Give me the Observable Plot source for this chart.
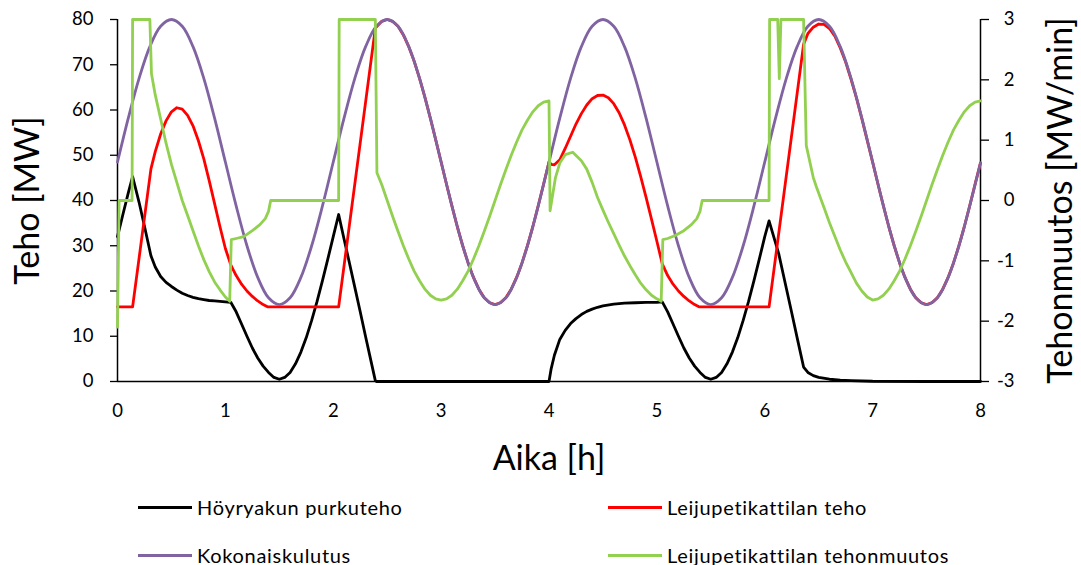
<!DOCTYPE html>
<html>
<head>
<meta charset="utf-8">
<script src="https://cdn.jsdelivr.net/npm/d3@7"></script>
<script src="https://cdn.jsdelivr.net/npm/@observablehq/plot@0.6"></script>
<style>
  body { margin: 0; background: #fff; }
  #chart { width: 1081px; }
  .legend { position: relative; width: 1081px; height: 85px; font-family: Lato, sans-serif; font-size: 20px; letter-spacing: 0.7px; color: #000; }
  .item { position: absolute; display: flex; align-items: center; white-space: nowrap; height: 26px; }
  .sw { display: inline-block; width: 54px; height: 3px; margin-right: 5px; }
</style>
</head>
<body>
<div id="chart"></div>
<div class="legend" id="legend"></div>
<script>
// ---- Data ----
const xTicks = [0, 1, 2, 3, 4, 5, 6, 7, 8];
const yTicks = [0, 10, 20, 30, 40, 50, 60, 70, 80];
const y2Ticks = [-3, -2, -1, 0, 1, 2, 3];

const seriesNames = ["Höyryakun purkuteho", "Leijupetikattilan teho", "Kokonaiskulutus", "Leijupetikattilan tehonmuutos"];
const seriesColors = ["#000000", "#FF0000", "#8064A2", "#92D050"];

// Kokonaiskulutus [MW], sampled every 0.1 h from 0 to 8 h
const kokStep = 0.1;
const kokonaiskulutus = [
  48.5, 58.2, 67.0, 74.0, 78.5, 80.0, 78.5, 74.0, 67.0, 58.2, 48.5, 38.8, 30.0, 23.0, 18.5, 17.0, 18.5, 23.0, 30.0, 38.8,
  48.5, 58.2, 67.0, 74.0, 78.5, 80.0, 78.5, 74.0, 67.0, 58.2, 48.5, 38.8, 30.0, 23.0, 18.5, 17.0, 18.5, 23.0, 30.0, 38.8,
  48.5, 58.2, 67.0, 74.0, 78.5, 80.0, 78.5, 74.0, 67.0, 58.2, 48.5, 38.8, 30.0, 23.0, 18.5, 17.0, 18.5, 23.0, 30.0, 38.8,
  48.5, 58.2, 67.0, 74.0, 78.5, 80.0, 78.5, 74.0, 67.0, 58.2, 48.5, 38.8, 30.0, 23.0, 18.5, 17.0, 18.5, 23.0, 30.0, 38.8,
  48.3
];

// Leijupetikattilan teho [MW]: [hour, MW]
const leijuTeho = [
  [0, 16.5], [0.14, 16.5], [0.31, 47.0], [0.35, 50.8], [0.40, 54.7], [0.45, 57.6], [0.50, 59.6], [0.55, 60.5],
  [0.60, 60.2], [0.65, 58.8], [0.70, 56.5], [0.75, 53.2], [0.80, 49.2], [0.85, 44.4], [0.90, 39.3], [0.95, 34.2],
  [1.00, 29.4], [1.05, 25.8], [1.10, 23.4], [1.15, 21.5], [1.20, 20.0], [1.25, 18.8], [1.30, 17.8], [1.35, 17.0],
  [1.39, 16.5], [2.05, 16.5], [2.39, 78.1], [2.45, 79.6], [2.50, 80.0], [2.55, 79.6], [2.60, 78.5], [2.65, 76.6],
  [2.70, 74.0], [2.75, 70.8], [2.80, 67.0], [2.85, 62.8], [2.90, 58.2], [2.95, 53.4], [3.00, 48.5], [3.05, 43.6],
  [3.10, 38.8], [3.15, 34.2], [3.20, 30.0], [3.25, 26.2], [3.30, 23.0], [3.35, 20.4], [3.40, 18.5], [3.45, 17.4],
  [3.50, 17.0], [3.55, 17.4], [3.60, 18.5], [3.65, 20.4], [3.70, 23.0], [3.75, 26.2], [3.80, 30.0], [3.85, 34.2],
  [3.90, 38.8], [3.95, 43.6], [4.00, 48.5], [4.02, 48.0], [4.05, 47.9], [4.10, 49.0], [4.15, 51.5], [4.20, 54.2],
  [4.25, 56.9], [4.30, 59.2], [4.35, 61.1], [4.40, 62.5], [4.45, 63.2], [4.50, 63.3], [4.55, 62.7], [4.60, 61.4],
  [4.65, 59.4], [4.70, 56.7], [4.75, 53.4], [4.80, 49.6], [4.85, 45.3], [4.90, 40.7], [4.95, 35.9], [5.00, 31.0],
  [5.05, 26.0], [5.10, 23.4], [5.15, 21.5], [5.20, 20.0], [5.25, 18.8], [5.30, 17.8], [5.35, 17.0], [5.39, 16.5],
  [6.04, 16.5], [6.36, 74.5], [6.40, 76.9], [6.45, 78.3], [6.50, 79.0], [6.55, 78.9], [6.60, 78.0], [6.65, 76.3],
  [6.70, 73.7], [6.75, 70.6], [6.80, 66.8], [6.85, 62.7], [6.90, 58.1], [6.95, 53.3], [7.00, 48.5], [7.05, 43.6],
  [7.10, 38.8], [7.15, 34.2], [7.20, 30.0], [7.25, 26.2], [7.30, 23.0], [7.35, 20.4], [7.40, 18.5], [7.45, 17.4],
  [7.50, 17.0], [7.55, 17.4], [7.60, 18.5], [7.65, 20.4], [7.70, 23.0], [7.75, 26.2], [7.80, 30.0], [7.85, 34.2],
  [7.90, 38.8], [7.95, 43.6], [8.00, 48.3]
];

// Höyryakun purkuteho [MW]: [hour, MW]
const purkuteho = [
  [0, 32.0], [0.05, 36.9], [0.10, 41.7], [0.14, 45.3], [0.20, 39.6], [0.25, 34.3], [0.31, 27.8], [0.35, 25.3],
  [0.40, 23.2], [0.45, 21.9], [0.50, 21.0], [0.55, 20.2], [0.60, 19.5], [0.65, 19.0], [0.70, 18.6], [0.75, 18.3],
  [0.80, 18.1], [0.85, 17.9], [0.90, 17.8], [0.95, 17.7], [1.00, 17.6], [1.05, 17.5], [1.10, 15.4], [1.15, 12.7],
  [1.20, 10.0], [1.25, 7.4], [1.30, 5.2], [1.35, 3.4], [1.40, 2.0], [1.45, 0.9], [1.50, 0.5], [1.55, 0.9],
  [1.60, 2.0], [1.65, 3.9], [1.70, 6.5], [1.75, 9.7], [1.80, 13.5], [1.85, 17.7], [1.90, 22.3], [1.95, 27.1],
  [2.00, 32.0], [2.05, 36.9], [2.10, 31.5], [2.15, 26.2], [2.20, 20.8], [2.25, 15.4], [2.30, 9.9], [2.35, 4.5],
  [2.39, 0.2], [2.40, 0.0], [4.00, 0.0], [4.02, 2.8], [4.05, 5.8], [4.10, 9.3], [4.15, 11.3], [4.20, 12.8],
  [4.25, 13.9], [4.30, 14.8], [4.35, 15.5], [4.40, 16.0], [4.45, 16.4], [4.50, 16.7], [4.60, 17.1], [4.70, 17.3],
  [4.80, 17.4], [4.90, 17.5], [5.00, 17.5], [5.05, 17.6], [5.10, 15.4], [5.15, 12.7], [5.20, 10.0], [5.25, 7.4],
  [5.30, 5.2], [5.35, 3.4], [5.40, 2.0], [5.45, 0.9], [5.50, 0.5], [5.55, 0.9], [5.60, 2.0], [5.65, 3.9],
  [5.70, 6.5], [5.75, 9.7], [5.80, 13.5], [5.85, 17.7], [5.90, 22.3], [5.95, 27.1], [6.00, 32.0], [6.04, 35.5],
  [6.13, 28.2], [6.20, 20.6], [6.25, 15.2], [6.30, 9.7], [6.36, 3.2], [6.40, 2.0], [6.45, 1.3], [6.50, 0.9],
  [6.60, 0.5], [6.70, 0.3], [6.80, 0.2], [7.00, 0.05], [7.50, 0.0], [8.00, 0.0]
];

// Leijupetikattilan tehonmuutos [MW/min] (right axis): [hour, MW/min]
const tehonmuutos = [
  [0, -2.1], [0.015, 0], [0.135, 0], [0.14, 3], [0.30, 3], [0.315, 2.1], [0.35, 1.75], [0.40, 1.35],
  [0.45, 0.95], [0.50, 0.6], [0.55, 0.3], [0.60, 0.0], [0.65, -0.25], [0.70, -0.5], [0.75, -0.75], [0.80, -0.98],
  [0.85, -1.18], [0.90, -1.35], [0.95, -1.48], [1.00, -1.6], [1.04, -1.67], [1.055, -0.65], [1.10, -0.63], [1.17, -0.6],
  [1.25, -0.5], [1.32, -0.4], [1.37, -0.3], [1.40, -0.18], [1.42, 0], [2.05, 0], [2.055, 3], [2.39, 3],
  [2.405, 0.46], [2.45, 0.26], [2.50, 0], [2.55, -0.26], [2.60, -0.51], [2.65, -0.75], [2.70, -0.97], [2.75, -1.17],
  [2.80, -1.33], [2.85, -1.47], [2.90, -1.57], [2.95, -1.63], [3.00, -1.65], [3.05, -1.63], [3.10, -1.57], [3.15, -1.47],
  [3.20, -1.33], [3.25, -1.17], [3.30, -0.97], [3.35, -0.75], [3.40, -0.51], [3.45, -0.26], [3.50, 0], [3.55, 0.26],
  [3.60, 0.51], [3.65, 0.75], [3.70, 0.97], [3.75, 1.17], [3.80, 1.33], [3.85, 1.47], [3.90, 1.57], [3.95, 1.63],
  [4.00, 1.65], [4.01, -0.17], [4.03, 0.05], [4.06, 0.38], [4.10, 0.62], [4.15, 0.76], [4.22, 0.80], [4.30, 0.66],
  [4.35, 0.52], [4.40, 0.30], [4.45, 0.05], [4.50, -0.16], [4.55, -0.36], [4.60, -0.55], [4.65, -0.74], [4.70, -0.92],
  [4.75, -1.08], [4.80, -1.23], [4.85, -1.37], [4.90, -1.48], [4.95, -1.57], [5.00, -1.63], [5.04, -1.67], [5.055, -0.65],
  [5.10, -0.63], [5.17, -0.58], [5.25, -0.5], [5.32, -0.4], [5.37, -0.3], [5.40, -0.18], [5.42, 0], [6.04, 0],
  [6.045, 3], [6.12, 3], [6.135, 2.02], [6.15, 3], [6.36, 3], [6.385, 0.91], [6.45, 0.38], [6.48, 0.22],
  [6.55, -0.12], [6.60, -0.37], [6.64, -0.55], [6.70, -0.82], [6.75, -1.02], [6.79, -1.16], [6.85, -1.37], [6.90, -1.50],
  [6.95, -1.60], [7.00, -1.65], [7.05, -1.63], [7.10, -1.57], [7.15, -1.47], [7.20, -1.33], [7.25, -1.17], [7.30, -0.97],
  [7.35, -0.75], [7.40, -0.51], [7.45, -0.26], [7.50, 0], [7.55, 0.26], [7.60, 0.51], [7.65, 0.75], [7.70, 0.97],
  [7.75, 1.17], [7.80, 1.33], [7.85, 1.47], [7.90, 1.57], [7.95, 1.63], [8.00, 1.65]
];

// ---- secondary axis mapping onto the primary y scale ----
const yMax = 80, y2Min = -3, y2Max = 3;
const toPrimary = v => (v - y2Min) * yMax / (y2Max - y2Min);
const fromPrimary = p => p * (y2Max - y2Min) / yMax + y2Min;

const font = "Lato, 'Open Sans', sans-serif";
const lw = 2.8;

const chart = Plot.plot({
  width: 1081,
  height: 480,
  marginLeft: 117,
  marginRight: 101,
  marginTop: 19,
  marginBottom: 99,
  style: { fontFamily: font, fontSize: "18.5px", color: "#000", background: "#fff", overflow: "visible" },
  x: { domain: [0, 8] },
  y: { domain: [0, 80] },
  marks: [
    Plot.axisX(xTicks, { tickSize: 0, tickPadding: 22, fontSize: 18.5, label: null, tickFormat: d => String(d) }),
    Plot.axisY(yTicks, { anchor: "left", tickSize: 7, tickPadding: 17, fontSize: 18.5, label: null, strokeWidth: 1.3, tickFormat: d => String(d) }),
    Plot.axisY(y2Ticks.map(toPrimary), { anchor: "right", tickSize: 8, tickPadding: 26, textAnchor: "end", fontSize: 18.5, label: null, strokeWidth: 1.3, tickFormat: d => String(Math.round(fromPrimary(d))) }),
    Plot.ruleX([0, 8], { stroke: "#000", strokeWidth: 1.5 }),
    Plot.ruleY([0], { stroke: "#000", strokeWidth: 1.5 }),
    Plot.line(purkuteho, { x: d => d[0], y: d => d[1], stroke: seriesColors[0], strokeWidth: lw }),
    Plot.line(leijuTeho, { x: d => d[0], y: d => d[1], stroke: seriesColors[1], strokeWidth: lw }),
    Plot.line(kokonaiskulutus, { x: (d, i) => i * kokStep, y: d => d, stroke: seriesColors[2], strokeWidth: lw, curve: "catmull-rom" }),
    Plot.line(tehonmuutos, { x: d => d[0], y: d => toPrimary(d[1]), stroke: seriesColors[3], strokeWidth: lw }),
    Plot.text(["Teho [MW]"], { frameAnchor: "left", textAnchor: "middle", lineAnchor: "middle", dx: -89, rotate: -90, fontSize: 34, fill: "#000" }),
    Plot.text(["Tehonmuutos [MW/min]"], { frameAnchor: "right", textAnchor: "middle", lineAnchor: "middle", dx: 81, rotate: -90, fontSize: 34, fill: "#000" }),
    Plot.text(["Aika [h]"], { frameAnchor: "bottom", textAnchor: "middle", lineAnchor: "middle", dy: 78, fontSize: 34, fill: "#000" })
  ]
});
document.getElementById("chart").appendChild(chart);

// ---- legend (below the SVG) ----
const legendPos = [[138, 27], [608, 27], [138, 75], [608, 75]];
const legend = document.getElementById("legend");
seriesNames.forEach((name, i) => {
  const it = document.createElement("div");
  it.className = "item";
  it.style.left = legendPos[i][0] + "px";
  it.style.top = (legendPos[i][1] - 13) + "px";
  const sw = document.createElement("span");
  sw.className = "sw";
  sw.style.background = seriesColors[i];
  const tx = document.createElement("span");
  tx.textContent = name;
  it.appendChild(sw);
  it.appendChild(tx);
  legend.appendChild(it);
});
</script>
</body>
</html>
